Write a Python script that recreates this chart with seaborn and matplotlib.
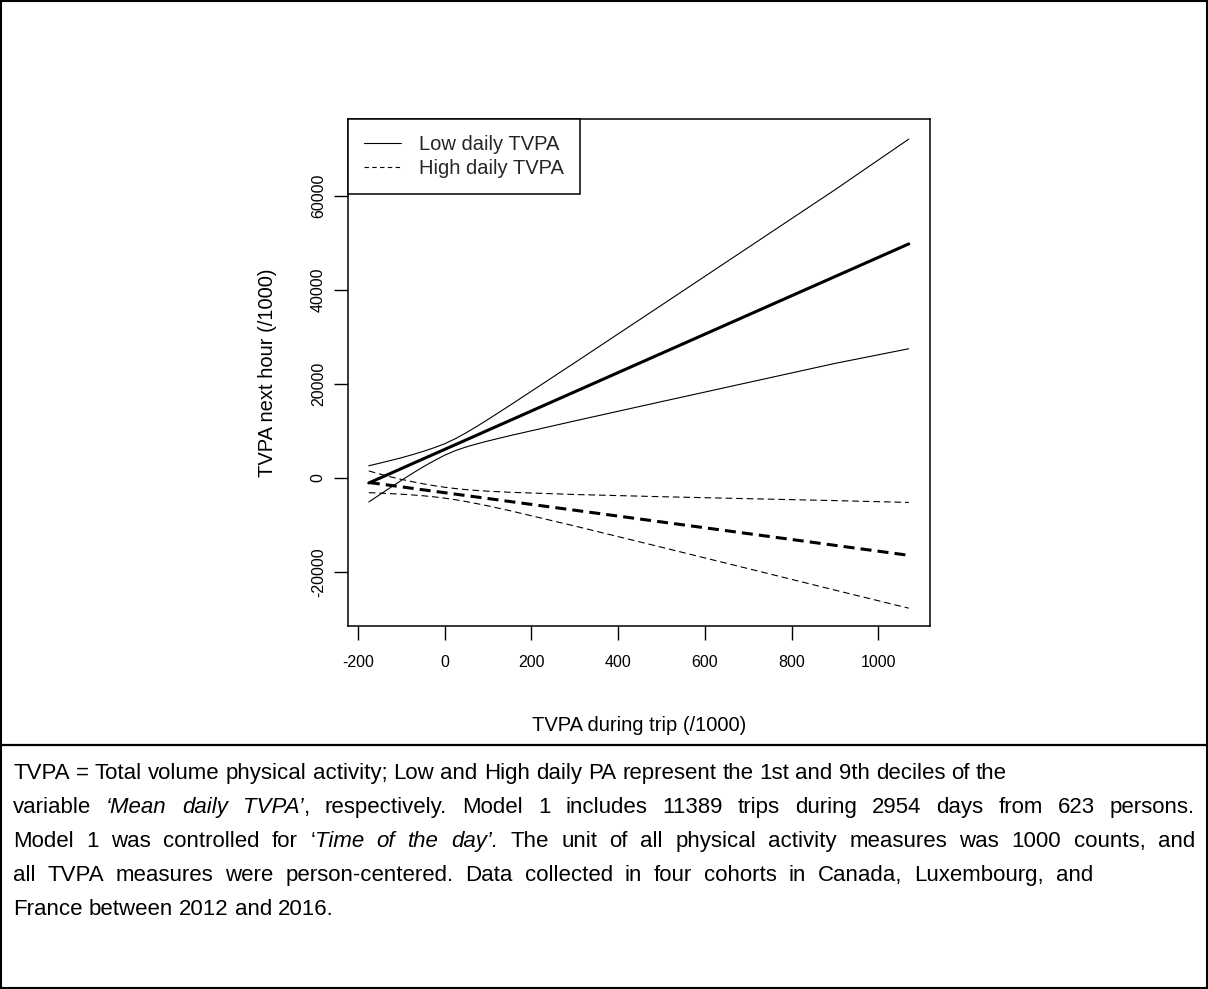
"""
Predicted TVPA in the next hour vs TVPA during the trip, by daily TVPA level.
Writes out.png
"""
import matplotlib
matplotlib.use("Agg")
import matplotlib.pyplot as plt
import seaborn as sns
from matplotlib.lines import Line2D
from matplotlib.patches import Rectangle

# ---------------------------------------------------------------------------
# Data
# ---------------------------------------------------------------------------
TRIP_TVPA = [-175, -150, -125, -100, -75, -50, -25, 0, 25, 50, 75, 100,
             150, 300, 500, 700, 900, 1070]

LOW_MEAN = [-1060, -40, 980, 2000, 3030, 4050, 5070, 6090, 7110, 8130, 9150,
            10180, 12220, 18350, 26520, 34690, 42860, 49800]
LOW_UPPER = [2600, 3150, 3720, 4300, 4950, 5650, 6420, 7290, 8380, 9650, 11030,
             12470, 15440, 24540, 36780, 49050, 61330, 72100]
LOW_LOWER = [-5100, -3560, -2020, -520, 950, 2350, 3650, 4850, 5840, 6620, 7280,
             7880, 9000, 12150, 16250, 20320, 24380, 27500]

HIGH_MEAN = [-950, -1260, -1570, -1880, -2200, -2510, -2820, -3130, -3440, -3750,
             -4060, -4370, -5000, -6860, -9350, -11840, -14330, -16450]
HIGH_UPPER = [1500, 850, 250, -290, -780, -1230, -1630, -1970, -2250, -2480,
              -2660, -2810, -3040, -3510, -3980, -4400, -4810, -5200]
HIGH_LOWER = [-3120, -3220, -3330, -3450, -3600, -3780, -4010, -4290, -4630,
              -5030, -5470, -5940, -6950, -10220, -14730, -19290, -23860, -27700]

X_TICKS = [-200, 0, 200, 400, 600, 800, 1000]
Y_TICKS = [-20000, 0, 20000, 40000, 60000]

LEGEND_LABELS = ["Low daily TVPA", "High daily TVPA"]

CAPTION = [
    [("TVPA = Total volume physical activity; Low and High daily PA represent "
      "the 1st and 9th deciles of the", "normal")],
    [("variable ", "normal"), ("\u2018Mean daily TVPA\u2019", "italic"),
     (", respectively. Model 1 includes 11389 trips during 2954 days from 623 persons.",
      "normal")],
    [("Model 1 was controlled for \u2018", "normal"), ("Time of the day\u2019.", "italic"),
     (" The unit of all physical activity measures was 1000 counts, and", "normal")],
    [("all TVPA measures were person-centered. Data collected in four cohorts in "
      "Canada, Luxembourg, and", "normal")],
    [("France between 2012 and 2016.", "normal")],
]
# right edge (px) each caption line is spread to; None = natural spacing
CAPTION_RIGHT = [None, 1195, 1195, 1093, None]
CAPTION_BASELINE = [779, 813, 847, 881, 915]
CAPTION_SIZE = 16

# ---------------------------------------------------------------------------
# Style
# ---------------------------------------------------------------------------
sns.set_theme(style="ticks")
plt.rcParams["font.family"] = ["Liberation Sans", "DejaVu Sans"]
plt.rcParams["lines.scale_dashes"] = True

THIN = 0.8
THICK = 2.2
THIN_DASH = (0, (6, 3.5))
THICK_DASH = (0, (3.6, 2.0))

W, H = 1208, 989
fig = plt.figure(figsize=(W / 100, H / 100), dpi=100)
fig.patch.set_facecolor("white")

# axes box in pixel terms: x 348..930, y 119..626
ax = fig.add_axes([348 / W, 1 - 626 / H, (930 - 348) / W, (626 - 119) / H])

series = [
    (LOW_UPPER, THIN, "-"),
    (LOW_LOWER, THIN, "-"),
    (LOW_MEAN, THICK, "-"),
    (HIGH_UPPER, THIN, THIN_DASH),
    (HIGH_LOWER, THIN, THIN_DASH),
    (HIGH_MEAN, THICK, THICK_DASH),
]
for ys, lw, ls in series:
    sns.lineplot(x=TRIP_TVPA, y=ys, ax=ax, color="black", linewidth=lw,
                 linestyle=ls, errorbar=None)

ax.set_xlim(-223, 1119)
ax.set_ylim(-31490, 76380)
ax.set_xticks(X_TICKS)
ax.set_yticks(Y_TICKS)
ax.set_xticklabels([str(v) for v in X_TICKS])
ax.set_yticklabels([str(v) for v in Y_TICKS], rotation=90, va="center")
ax.tick_params(axis="both", direction="out", length=10, width=1.0,
               color="black", labelsize=11.5, labelcolor="black")
ax.tick_params(axis="x", pad=11)
ax.tick_params(axis="y", pad=6)
for sp in ax.spines.values():
    sp.set_visible(True)
    sp.set_color("black")
    sp.set_linewidth(1.1)

ax.set_xlabel("TVPA during trip (/1000)", fontsize=14.5, labelpad=33, color="black")
ax.set_ylabel("TVPA next hour (/1000)", fontsize=14.5, labelpad=24, color="black")

handles = [
    Line2D([0], [0], color="black", linewidth=THIN, linestyle="-"),
    Line2D([0], [0], color="black", linewidth=THIN, linestyle=(0, (4, 3))),
]
leg = ax.legend(handles, LEGEND_LABELS, loc="upper left", borderaxespad=0,
                fontsize=14.5, frameon=True, fancybox=False, framealpha=1,
                edgecolor="black", handlelength=1.85, handletextpad=0.9,
                labelspacing=0.25, borderpad=0.8)
leg.get_frame().set_linewidth(1.1)

# ---------------------------------------------------------------------------
# Caption panel and outer frame
# ---------------------------------------------------------------------------
cap = fig.add_axes([0, 0, 1, 1])
cap.axis("off")
cap.set_xlim(0, W)
cap.set_ylim(H, 0)

fig.add_artist(Rectangle((1 / W, 1 / H), 1 - 2 / W, 1 - 2 / H,
                         transform=fig.transFigure, fill=False,
                         edgecolor="black", linewidth=1.5))
fig.add_artist(Line2D([0, 1], [1 - 745 / H, 1 - 745 / H],
                      transform=fig.transFigure, color="black", linewidth=1.6))

renderer = fig.canvas.get_renderer()


def text_width(s, style):
    t = cap.text(0, 0, s, fontsize=CAPTION_SIZE, style=style)
    w = t.get_window_extent(renderer).width
    t.remove()
    return w


space_w = text_width("x x", "normal") - text_width("xx", "normal")

for y, parts, right in zip(CAPTION_BASELINE, CAPTION, CAPTION_RIGHT):
    # split into words; a word may hold pieces in different styles
    words = [[]]
    for text, style in parts:
        for i, chunk in enumerate(text.split(" ")):
            if i > 0:
                words.append([])
            if chunk:
                words[-1].append((chunk, style))
    words = [w for w in words if w]
    widths = [[text_width(s, st) for s, st in w] for w in words]
    total = sum(sum(ws) for ws in widths)
    x0 = 13
    gap = space_w if right is None else (right - x0 - total) / (len(words) - 1)
    x = x0
    for w, ws in zip(words, widths):
        for (s, st), pw in zip(w, ws):
            cap.text(x, y, s, fontsize=CAPTION_SIZE, style=st, va="baseline",
                     ha="left", color="black")
            x += pw
        x += gap

fig.savefig("out.png", dpi=100, facecolor="white")
